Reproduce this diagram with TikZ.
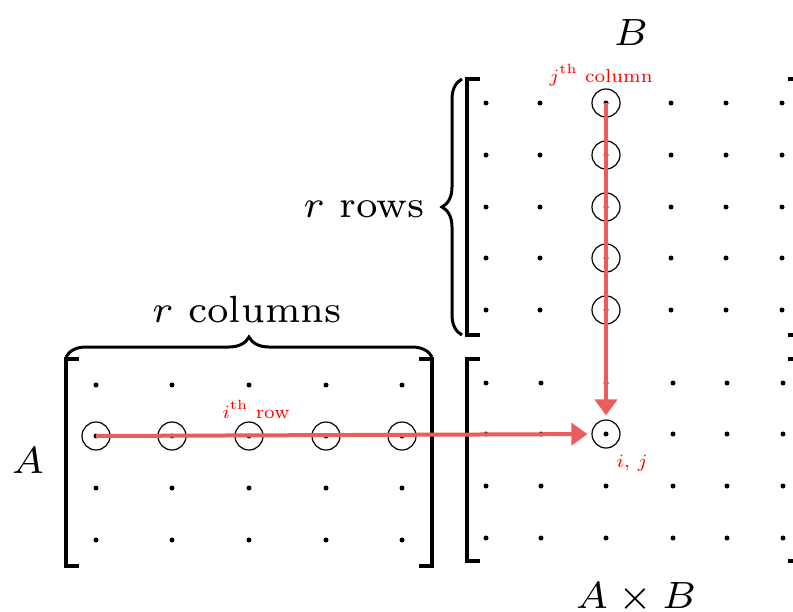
\documentclass[tikz,border=0pt]{standalone}
\usepackage{amsmath}
\usepackage{tikz}
\usetikzlibrary{arrows.meta,positioning,decorations.pathreplacing}
\definecolor{pathred}{RGB}{236,92,92}

\begin{document}
\begin{tikzpicture}[
  x=0.5pt,y=-0.5pt,
  entry/.style={circle,fill=black,inner sep=0pt,minimum size=2.5pt},
  pick/.style={circle,draw,line width=0.6pt,inner sep=0pt,minimum size=14pt,
    path picture={\fill (path picture bounding box.center) circle (1.25pt);}},
  bracket/.style={line width=1.6pt},
  curly/.style={decorate,decoration={brace,amplitude=10pt},line width=1.5pt},
  arrow/.style={-{Triangle[length=8pt,width=11pt]},line width=2pt,draw=pathred,shorten >=2pt},
  note/.style={text=red,font=\scriptsize,scale=1.34,transform shape,anchor=base},
  title/.style={font=\scriptsize,scale=2.71,transform shape,anchor=base}
]
  \clip (0,0) rectangle (793,611);

  % matrix A, row i circled
  \foreach \y [count=\r] in {385,436,488,540}
    \foreach \x [count=\c] in {96,172,249,326,402} {
      \ifnum\r=2 \node[pick] (a-\r-\c) at (\x,\y) {};
      \else \node[entry] (a-\r-\c) at (\x,\y) {}; \fi
    }
  % matrix B, column j circled
  \foreach \y [count=\r] in {103,155,207,258,310}
    \foreach \x [count=\c] in {486,540,606,671,726,782} {
      \ifnum\c=3 \node[pick] (b-\r-\c) at (\x,\y) {};
      \else \node[entry] (b-\r-\c) at (\x,\y) {}; \fi
    }
  % product, entry (i,j) circled
  \foreach \y [count=\r] in {383,434,486,538}
    \foreach \x [count=\c] in {486,541,606,673,727,783} {
      \ifnum\r\c=23 \node[pick] (ab-\r-\c) at (\x,\y) {};
      \else \node[entry] (ab-\r-\c) at (\x,\y) {}; \fi
    }

  % brackets
  \draw[bracket] (79,359) -| (66,566) -- (79,566);
  \draw[bracket] (419,359) -| (432,566) -- (419,566);
  \draw[bracket] (480,79) -| (467,335) -- (480,335);
  \draw[bracket] (788,79) -| (801,335) -- (788,335);
  \draw[bracket] (480,359) -| (467,561) -- (480,561);
  \draw[bracket] (788,359) -| (801,561) -- (788,561);

  % braces
  \draw[curly] (66,357) -- (432,357);
  \draw[curly] (462,335) -- (462,79);

  \node[title] (colsname) at (247,322) {$r$ columns};
  \node[title] (rowsname) at (364,217) {$r$ rows};
  \node[title] (aname) at (28,473) {$A$};
  \node[title] (bname) at (631,45) {$B$};
  \node[title] (abname) at (636,608) {$A\times B$};

  \node[note] (jcol) at (601,82) {$j^{\text{th}}$ column};
  \node[note] (irow) at (256,418) {$i^{\text{th}}$ row};
  \node[note] (ij) at (632,467) {$i,\,j$};

  \draw[arrow] (a-2-1.center) -- (ab-2-3);
  \draw[arrow] (b-1-3.center) -- (ab-2-3);
\end{tikzpicture}
\end{document}
